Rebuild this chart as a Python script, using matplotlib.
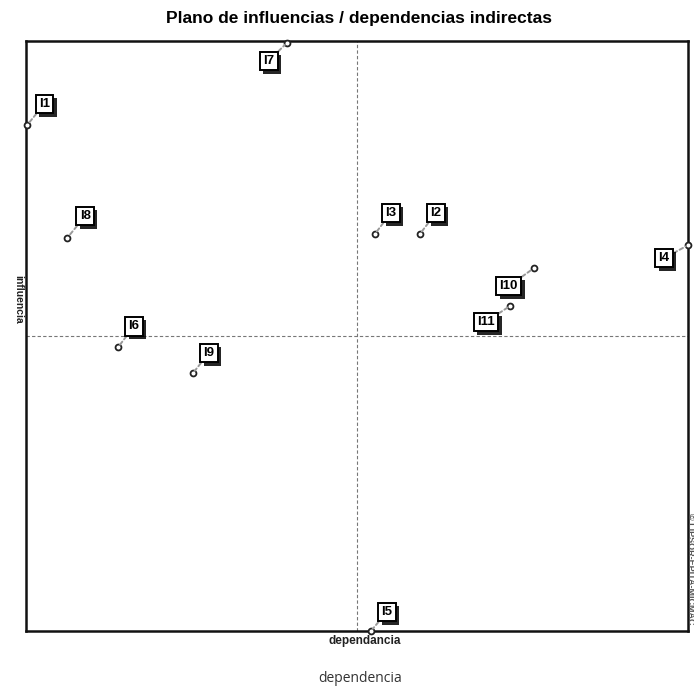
import matplotlib
matplotlib.use('Agg')
import matplotlib.pyplot as plt
import matplotlib.patheffects as pe

# variables and their indirect dependence (x) / influence (y), in % of the axis range
labels = ['I1', 'I2', 'I3', 'I4', 'I5', 'I6', 'I7', 'I8', 'I9', 'I10', 'I11']
dependencia = [0.2, 59.5, 52.7, 100.0, 52.1, 13.9, 39.4, 6.2, 25.2, 76.7, 73.1]
influencia = [85.8, 67.3, 67.3, 65.4, 0.0, 48.1, 99.7, 66.6, 43.7, 61.5, 55.1]

# where each label box sits relative to its point (pixels)
offsets = {'I1': (17, 21), 'I2': (16, 21), 'I3': (16, 21), 'I4': (-24, -13),
           'I5': (16, 19), 'I6': (16, 21), 'I7': (-18, -18), 'I8': (18, 22),
           'I9': (16, 20), 'I10': (-25, -18), 'I11': (-24, -16)}

narrow = ['Liberation Sans Narrow', 'Liberation Sans', 'DejaVu Sans']

fig = plt.figure(figsize=(6.94, 6.94), dpi=100)
ax = fig.add_axes([0.0375, 0.0908, 0.9539, 0.850])
ax.set_xlim(0, 100)
ax.set_ylim(0, 100)
ax.set_xticks([])
ax.set_yticks([])
for s in ax.spines.values():
    s.set_linewidth(1.8)
    s.set_color('#111111')

# quadrant lines at the mean
ax.axvline(50, color='#777777', linestyle=(0, (3, 2)), lw=0.8)
ax.axhline(50, color='#777777', linestyle=(0, (3, 2)), lw=0.8)

ax.scatter(dependencia, influencia, s=18, facecolor='white', edgecolor='#222222',
           linewidth=1.3, zorder=5, clip_on=False)

for name, x, y in zip(labels, dependencia, influencia):
    ann = ax.annotate(name, (x, y), xytext=offsets[name], textcoords='offset pixels',
                      ha='center', va='center', fontsize=9.5, fontweight='bold',
                      family=narrow,
                      bbox=dict(boxstyle='square,pad=0.25', fc='white', ec='black', lw=1.4),
                      arrowprops=dict(arrowstyle='-', color='#999999', lw=1.4,
                                      linestyle=(0, (2, 1.5)), shrinkA=0, shrinkB=2),
                      zorder=6, annotation_clip=False)
    ann.get_bbox_patch().set_path_effects([
        pe.SimplePatchShadow(offset=(2.5, -2.5), shadow_rgbFace='black', alpha=0.85),
        pe.Normal()])

fig.text(0.518, 0.974, 'Plano de influencias / dependencias indirectas', ha='center', va='center',
         fontsize=12.5, fontweight='bold', family=narrow)
fig.text(0.026, 0.568, 'influencia', rotation=-90, ha='center', va='center',
         fontsize=7.5, fontweight='bold', color='#222222', family=narrow)
fig.text(0.526, 0.077, 'dependancia', ha='center', va='center', fontsize=8.5,
         fontweight='bold', color='#222222', family=narrow)
fig.text(0.995, 0.18, '© LIPSOR-EPITA-MICMAC', rotation=-90, ha='center', va='center',
         fontsize=6.5, fontweight='bold', color='#555555', family=narrow)
fig.text(0.519, 0.011, 'dependencia', ha='center', va='bottom', fontsize=10,
         family=['Open Sans', 'DejaVu Sans'], color='#333333')

plt.savefig('out.png', dpi=100)
plt.close()
